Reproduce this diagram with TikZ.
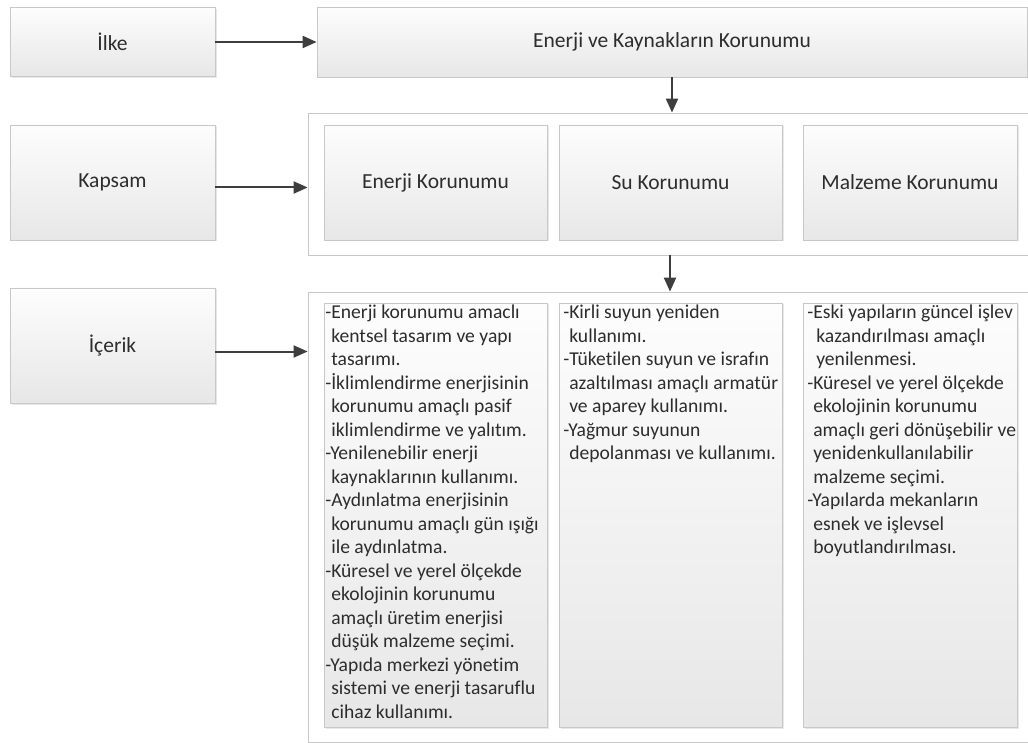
\documentclass[tikz,border=0pt]{standalone}
\usepackage{fontspec}
\setmainfont{Carlito}[Ligatures=NoCommon]
\usetikzlibrary{arrows.meta,shadows}
\definecolor{boxline}{RGB}{200,200,200}
\definecolor{boxtop}{RGB}{253,253,253}
\definecolor{boxbot}{RGB}{231,231,231}
\definecolor{ink}{RGB}{45,45,45}
\definecolor{arrowc}{RGB}{62,62,62}
\newcommand{\ind}{\hphantom{-}}
\begin{document}
\begin{tikzpicture}[x=1pt, y=-1pt, text=ink,
    font=\fontsize{21.5}{23.5}\selectfont,
    grbox/.style={draw=boxline, line width=0.8pt, top color=boxtop, bottom color=boxbot,
      drop shadow={opacity=0.18, shadow xshift=1.5pt, shadow yshift=-1.5pt}, inner sep=0pt},
    frame/.style={draw=boxline, fill=white, line width=0.8pt, inner sep=0pt},
    con/.style={draw=arrowc, line width=2pt, -{Triangle[length=14pt,width=12pt]}},
    lines/.style={anchor=north west, align=left, inner sep=1pt, font=\fontsize{19.6}{23.5}\selectfont}]
    \clip (0, 0) rectangle (1028, 743);
    \fill[white] (0, 0) rectangle (1028, 743);
    % frames
    \node[frame, minimum width=724pt, minimum height=142pt] (kapsamF) at (670, 184) {};
    \node[frame, minimum width=724pt, minimum height=450pt] (icerikF) at (670, 517) {};
    % left column
    \node[grbox, minimum width=205pt, minimum height=69pt] (ilke) at (112.5, 42) {İlke};
    \node[grbox, minimum width=205pt, minimum height=115pt] (kapsam) at (112.5, 182.5) {Kapsam};
    \node[grbox, minimum width=205pt, minimum height=115pt] (icerik) at (112.5, 345.5) {İçerik};
    % principle
    \node[grbox, minimum width=710pt, minimum height=70pt] (ilkeR) at (672, 42) {Enerji ve Kaynakların Korunumu};
    % scope
    \node[grbox, minimum width=223pt, minimum height=115pt] (enerji) at (435.5, 182.5) {Enerji Korunumu};
    \node[grbox, minimum width=223pt, minimum height=115pt] (su) at (670.5, 182.5) {Su Korunumu};
    \node[grbox, minimum width=214pt, minimum height=115pt] (malzeme) at (910, 182.5) {Malzeme Korunumu};
    % content
    \node[grbox, minimum width=223pt, minimum height=424pt] (enerjiB) at (435.5, 515) {};
    \node[grbox, minimum width=223pt, minimum height=424pt] (suB) at (670.5, 515) {};
    \node[grbox, minimum width=214pt, minimum height=424pt] (malzemeB) at (910, 515) {};
    \node[lines] (enerjiT) at ([xshift=0.5pt, yshift=-1.5pt]enerjiB.north west) {%
      -Enerji korunumu amaclı\\ \ind kentsel tasarım ve yapı\\ \ind tasarımı.\\
      -İklimlendirme enerjisinin\\ \ind korunumu amaçlı pasif\\ \ind iklimlendirme ve yalıtım.\\
      -Yenilenebilir enerji\\ \ind kaynaklarının kullanımı.\\
      -Aydınlatma enerjisinin\\ \ind korunumu amaçlı gün ışığı\\ \ind ile aydınlatma.\\
      -Küresel ve yerel ölçekde\\ \ind ekolojinin korunumu\\ \ind amaçlı üretim enerjisi\\ \ind düşük malzeme seçimi.\\
      -Yapıda merkezi yönetim\\ \ind sistemi ve enerji tasaruflu\\ \ind cihaz kullanımı.};
    \node[lines] (suT) at ([xshift=3.5pt, yshift=-1.5pt]suB.north west) {%
      -Kirli suyun yeniden\\ \ind kullanımı.\\
      -Tüketilen suyun ve israfın\\ \ind azaltılması amaçlı armatür\\ \ind ve aparey kullanımı.\\
      -Yağmur suyunun\\ \ind depolanması ve kullanımı.};
    \node[lines] (malzemeT) at ([xshift=3.5pt, yshift=-1.5pt]malzemeB.north west) {%
      -Eski yapıların güncel işlev\\ \hspace{9pt}kazandırılması amaçlı\\ \hspace{9pt}yenilenmesi.\\
      -Küresel ve yerel ölçekde\\ \ind ekolojinin korunumu\\ \ind amaçlı geri dönüşebilir ve\\ \ind yenidenkullanılabilir\\ \ind malzeme seçimi.\\
      -Yapılarda mekanların\\ \ind esnek ve işlevsel\\ \ind boyutlandırılması.};
    % connectors
    \draw[con] (ilke.east) -- (ilkeR.west);
    \draw[con] (ilkeR.south) -- (ilkeR.south |- kapsamF.north);
    \draw[con] ([yshift=-5pt]kapsam.east) -- ([yshift=-5pt]kapsam.east -| kapsamF.west);
    \draw[con] (kapsamF.south) -- (icerikF.north);
    \draw[con] ([yshift=-6pt]icerik.east) -- ([yshift=-6pt]icerik.east -| icerikF.west);
  \end{tikzpicture}
\end{document}
